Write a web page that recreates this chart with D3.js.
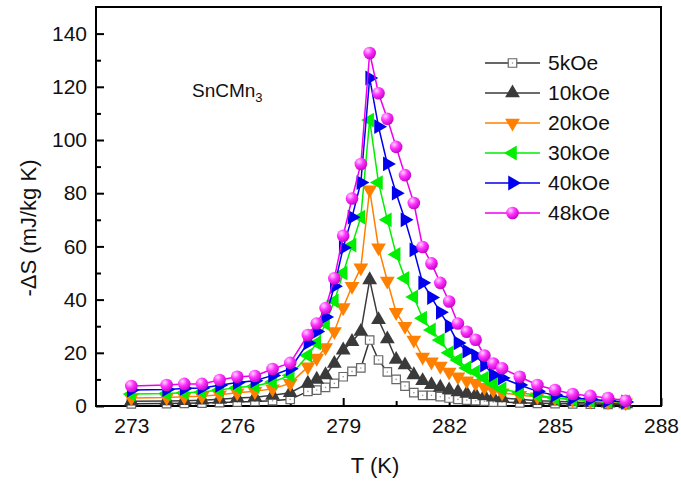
<!DOCTYPE html>
<html>
<head>
<meta charset="utf-8">
<script src="https://cdn.jsdelivr.net/npm/d3@7"></script>
<style>
  body { margin: 0; background: #fff; }
  svg { font-family: "Liberation Sans", Arial, sans-serif; }
</style>
</head>
<body>
<svg id="chart" width="681" height="481"></svg>
<script>
// temperature grid (K)
var temps = [273, 274, 274.5, 275, 275.5, 276, 276.5, 277, 277.5,
  278, 278.25, 278.5, 278.75, 279, 279.25, 279.5, 279.75,
  280, 280.25, 280.5, 280.75, 281, 281.25, 281.5, 281.75, 282, 282.25, 282.5, 282.75, 283, 283.25, 283.5,
  284, 284.5, 285, 285.5, 286, 286.5, 287];

// -dS values (mJ/kg K) for each field
var s5 = [0.8, 0.9, 1, 1.1, 1.3, 1.5, 1.7, 2, 2.5,
  5.5, 6, 7, 8.5, 11, 13, 14.3, 24.8,
  17.3, 12.8, 10, 7.5, 5, 4, 4, 3.5, 3, 2.5, 2.2, 2, 1.8, 1.5, 1.5,
  1.2, 1, 0.9, 0.8, 0.7, 0.6, 0.5];
var s10 = [1.8, 1.9, 2, 2.2, 2.5, 3, 3.3, 4, 5,
  8.5, 10, 11.7, 16, 21, 24.2, 28, 47.4,
  32.4, 25.2, 17.5, 15.4, 11.7, 9.5, 8, 7, 6, 5.3, 4.7, 4.2, 3.8, 3.3, 3,
  2.5, 2, 1.8, 1.5, 1.2, 1, 0.8];
var s20 = [3, 3.2, 3.5, 3.7, 4.2, 5, 5.5, 6.5, 8.5,
  14.7, 18, 22, 28, 37, 45, 52, 81.3,
  59.5, 47, 35.2, 30, 24.8, 18.4, 16.6, 15, 12.8, 11, 9.5, 8.5, 7, 6, 5,
  4, 3.5, 3, 2.5, 2, 1.5, 1.2];
var s30 = [4.5, 4.7, 5, 5.3, 6, 7, 7.5, 9, 11.5,
  19, 23.7, 31, 39.5, 50, 60.5, 71, 107.5,
  84, 70, 57, 48, 41, 33, 28.6, 24.8, 20, 17.3, 14.3, 12.8, 10.5, 8.3, 6.4,
  5, 4, 3, 2.5, 2, 1.8, 1.5];
var s40 = [6, 6.2, 6.6, 6.8, 7.8, 8.8, 9.5, 11.5, 14,
  23.7, 28, 33.5, 45, 59.5, 71, 84, 123.3,
  105, 91, 80, 70, 58.7, 46.3, 40.8, 35.2, 30, 23.7, 20.6, 18.9, 15.4, 11.7, 10.5,
  7.9, 5.5, 4, 3, 2.5, 2, 1.5];
var s48 = [7.5, 7.9, 8.3, 8.3, 9.8, 11, 11.3, 13.9, 16.2,
  26.7, 31, 36.8, 48, 64, 78, 91, 132.7,
  117.6, 108, 97.4, 86.8, 76.3, 59.8, 53.6, 46.3, 39.3, 31, 27.9, 24.9, 19, 16, 14.2,
  11, 7.9, 6, 4.5, 3.8, 3, 2];

var fieldLabels = ["5kOe", "10kOe", "20kOe", "30kOe", "40kOe", "48kOe"];
var xTicks = [273, 276, 279, 282, 285, 288];
var yTicks = [0, 20, 40, 60, 80, 100, 120, 140];

var series = [
  {name: fieldLabels[0], values: s5,  color: "#333333", shape: "square"},
  {name: fieldLabels[1], values: s10, color: "#3a3a3a", shape: "up"},
  {name: fieldLabels[2], values: s20, color: "#ff8000", shape: "down"},
  {name: fieldLabels[3], values: s30, color: "#00ee00", shape: "left"},
  {name: fieldLabels[4], values: s40, color: "#0000ee", shape: "right"},
  {name: fieldLabels[5], values: s48, color: "#ee00ee", shape: "ball"}
];

var margin = {top: 7, right: 20, bottom: 75, left: 96},
  width = 661 - margin.left,
  height = 406 - margin.top;

var svg = d3.select("#chart");

// sphere gradient for the 48kOe markers
var defs = svg.append("defs");
var grad = defs.append("radialGradient").attr("id", "ball")
  .attr("cx", "0.35").attr("cy", "0.3").attr("r", "0.75");
grad.append("stop").attr("offset", "0%").attr("stop-color", "#ffd6ff");
grad.append("stop").attr("offset", "45%").attr("stop-color", "#ff33ff");
grad.append("stop").attr("offset", "100%").attr("stop-color", "#c000c0");

var g = svg.append("g")
  .attr("transform", "translate(" + margin.left + "," + margin.top + ")");

var x = d3.scaleLinear().domain([272, 288]).range([0, width]);
var y = d3.scaleLinear().domain([0, 150]).range([height, 0]);

// axes, ticks pointing inward
var xMinor = d3.range(274.5, 288, 3);
var yMinor = d3.range(10, 150, 20);

g.append("g").attr("transform", "translate(0," + height + ")")
  .call(d3.axisBottom(x).tickValues(xTicks).tickSize(-8).tickPadding(12).tickFormat(d3.format("d")))
  .call(function(a) { a.select(".domain").remove(); })
  .selectAll("text").attr("font-size", 21).attr("fill", "#111");
g.append("g").attr("transform", "translate(0," + height + ")")
  .call(d3.axisBottom(x).tickValues(xMinor).tickSize(-5).tickFormat(""))
  .call(function(a) { a.select(".domain").remove(); });

g.append("g")
  .call(d3.axisLeft(y).tickValues(yTicks).tickSize(-8).tickPadding(9))
  .call(function(a) { a.select(".domain").remove(); })
  .selectAll("text").attr("font-size", 21).attr("fill", "#111");
g.append("g")
  .call(d3.axisLeft(y).tickValues(yMinor).tickSize(-5).tickFormat(""))
  .call(function(a) { a.select(".domain").remove(); });

g.selectAll(".tick line").attr("stroke", "#000").attr("stroke-width", 2);

// frame
g.append("rect")
  .attr("width", width).attr("height", height)
  .attr("fill", "none").attr("stroke", "#000").attr("stroke-width", 2);

// marker drawing
var tri = d3.symbol().type(d3.symbolTriangle).size(95);
var sq = d3.symbol().type(d3.symbolSquare).size(72);
var rot = {up: 0, down: 180, left: -90, right: 90};

function drawMarker(sel, s) {
  if (s.shape === "square") {
    sel.append("path").attr("d", sq())
      .attr("fill", "#fff").attr("stroke", "#666").attr("stroke-width", 1.2);
    sel.append("circle").attr("r", 0.8).attr("fill", "#999");
  } else if (s.shape === "ball") {
    sel.append("circle").attr("r", 6.3).attr("fill", "url(#ball)");
  } else {
    sel.append("path").attr("d", tri())
      .attr("transform", "rotate(" + rot[s.shape] + ")")
      .attr("fill", s.color);
  }
}

var line = d3.line()
  .x(function(d) { return x(d.t); })
  .y(function(d) { return y(d.v); });

series.forEach(function(s) {
  var pts = temps.map(function(t, i) { return {t: t, v: s.values[i]}; });
  var sg = g.append("g");
  sg.append("path").datum(pts)
    .attr("d", line)
    .attr("fill", "none")
    .attr("stroke", s.color)
    .attr("stroke-width", 1.5);
  sg.selectAll(".m").data(pts).enter()
    .append("g")
    .attr("transform", function(d) { return "translate(" + x(d.t) + "," + y(d.v) + ")"; })
    .each(function() { drawMarker(d3.select(this), s); });
});

// legend
var legend = svg.append("g").attr("transform", "translate(485,63)");
series.forEach(function(s, i) {
  var row = legend.append("g").attr("transform", "translate(0," + (i * 30) + ")");
  row.append("line").attr("x1", 0).attr("x2", 55)
    .attr("stroke", s.color).attr("stroke-width", 1.5);
  var mk = row.append("g").attr("transform", "translate(27.5,0)");
  drawMarker(mk, s);
  row.append("text").attr("x", 63).attr("y", 7)
    .attr("font-size", 21).attr("fill", "#111").text(s.name);
});

// compound label
var lab = svg.append("text").attr("x", 192).attr("y", 97)
  .attr("font-size", 19).attr("fill", "#111");
lab.append("tspan").text("SnCMn");
lab.append("tspan").attr("font-size", 13).attr("dy", 5).text("3");

// axis titles
svg.append("text").attr("x", 375).attr("y", 473)
  .attr("text-anchor", "middle").attr("font-size", 22).attr("fill", "#111")
  .text("T (K)");
svg.append("text")
  .attr("transform", "translate(36,228) rotate(-90)")
  .attr("text-anchor", "middle").attr("font-size", 22).attr("fill", "#111")
  .text("-\u0394S (mJ/kg K)");
</script>
</body>
</html>
